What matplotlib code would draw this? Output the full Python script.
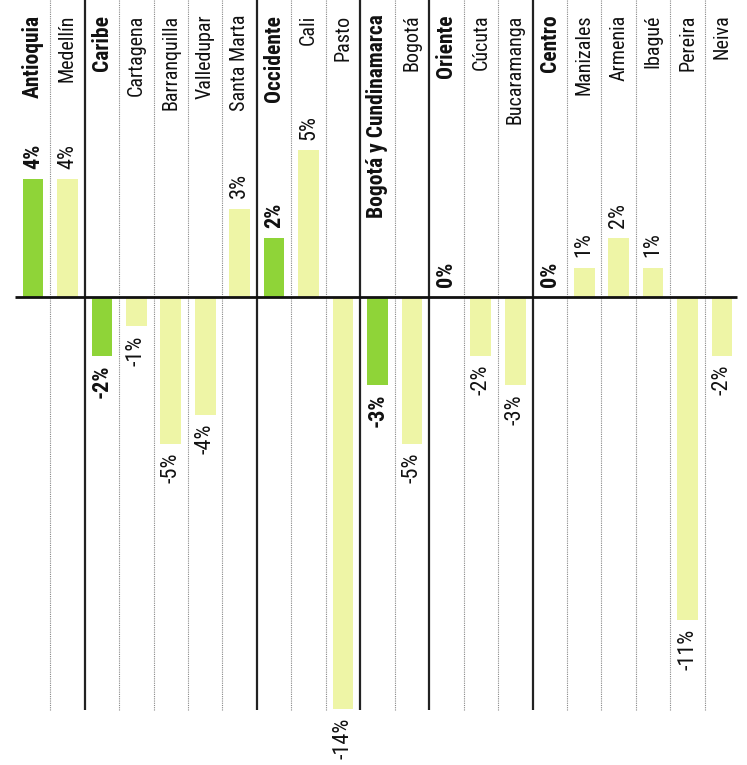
import matplotlib.pyplot as plt
from matplotlib import font_manager
import numpy as np

labels = ["Antioquia", "Medellín", "Caribe", "Cartagena", "Barranquilla",
          "Valledupar", "Santa Marta", "Occidente", "Cali", "Pasto",
          "Bogotá y Cundinamarca", "Bogotá", "Oriente", "Cúcuta",
          "Bucaramanga", "Centro", "Manizales", "Armenia", "Ibagué",
          "Pereira", "Neiva"]
values = [4, 4, -2, -1, -5, -4, 3, 2, 5, -14, -3, -5, 0, -2, -3, 0, 1, 2, 1, -11, -2]
regions = ["Antioquia", "Caribe", "Occidente", "Bogotá y Cundinamarca", "Oriente", "Centro"]

# look for a narrow face, the original uses a condensed type
names = {f.name for f in font_manager.fontManager.ttflist}
stretched = {f.name for f in font_manager.fontManager.ttflist
             if f.stretch in ("condensed", "semi-condensed", "extra-condensed")}
narrow = None
for cand in ["Roboto Condensed", "Liberation Sans Narrow", "Open Sans Condensed",
             "Noto Sans Condensed", "DejaVu Sans Condensed"]:
    if cand in names:
        narrow = cand
        break
stretch = "normal"
if narrow is None:
    for cand in ["Roboto", "Noto Sans", "Open Sans", "DejaVu Sans"]:
        if cand in stretched:
            narrow = cand
            stretch = "condensed"
            break
if narrow is None:
    narrow = "Liberation Sans"
plt.rcParams['font.family'] = [narrow, 'DejaVu Sans']
plt.rcParams['font.stretch'] = stretch

fig = plt.figure(figsize=(7.47, 7.65), dpi=100)
ax = fig.add_axes([0, 0, 1, 1])
ax.set_xlim(-0.457, 21.226)
ax.set_ylim(-15.92, 10.1)
ax.axis("off")

x = np.arange(len(labels)) + 0.5
is_reg = np.array([l in regions for l in labels])
colors = ["#8fd438" if r else "#eef5a6" for r in is_reg]
ax.bar(x, values, width=0.6, color=colors, zorder=2)

# separators: solid between regions, dotted between cities
for b in range(1, len(labels)):
    if labels[b] in regions:
        ax.vlines(b, -14.05, 10.1, color="#222222", lw=1.6, zorder=1)
    else:
        ax.vlines(b, -14.05, 10.1, color="#888888", lw=0.8, ls=(0, (1, 1)), zorder=1)

ax.hlines(0, -0.02, 20.94, color="#111111", lw=2.0, zorder=3)

for xi, lab, v, r in zip(x, labels, values, is_reg):
    w = "bold" if r else "normal"
    ax.text(xi, 9.6, lab, rotation=90, ha="center", va="top",
            fontsize=15.5 if r else 14.5, fontweight=w, color="#111111")
    if v >= 0:
        ax.text(xi, v + 0.35, f"{v}%", rotation=90, ha="center", va="bottom",
                fontsize=16, fontweight=w, color="#111111")
    else:
        ax.text(xi, v - 0.3, f"{v}%", rotation=90, ha="center", va="top",
                fontsize=16, fontweight=w, color="#111111")

fig.savefig("out.png", dpi=100)
